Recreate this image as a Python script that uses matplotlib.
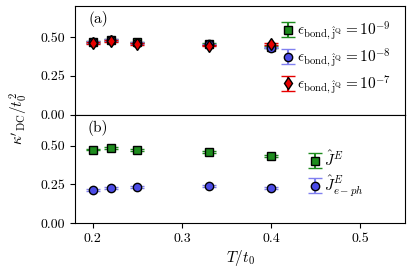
import numpy as np
import matplotlib.pyplot as plt

plt.rcParams['font.family'] = 'serif'
plt.rcParams['font.serif'] = ['cmr10']
plt.rcParams['mathtext.fontset'] = 'cm'
plt.rcParams['axes.unicode_minus'] = False
plt.rcParams['font.size'] = 11

# temperatures T/t0
T = [0.2, 0.22, 0.25, 0.33, 0.4]

# (a) different bond cut-offs
k_e9 = [0.470, 0.480, 0.465, 0.455, 0.435]
k_e8 = [0.468, 0.478, 0.463, 0.452, 0.432]
k_e7 = [0.460, 0.472, 0.455, 0.445, 0.455]
err_a = [0.006, 0.006, 0.006, 0.006, 0.006]

# (b) total vs e-ph current
k_JE = [0.474, 0.486, 0.471, 0.461, 0.430]
k_Jeph = [0.213, 0.228, 0.230, 0.239, 0.224]
err_b = [0.006, 0.006, 0.006, 0.006, 0.006]

green = '#1e8c1e'
blue = '#4b4be6'
red = '#e60000'

fig, (ax1, ax2) = plt.subplots(2, 1, sharex=True, figsize=(4.12, 2.73), dpi=100)
fig.subplots_adjust(left=0.182, right=0.983, top=0.978, bottom=0.183, hspace=0)

ax1.errorbar(T, k_e9, yerr=err_a, fmt='s', color=green, mfc=green, mec='k', ms=6,
             capsize=5, label=r'$\epsilon_{\mathrm{bond},\hat{\mathrm{j}}^{\mathrm{Q}}} = 10^{-9}$')
ax1.errorbar(T, k_e8, yerr=err_a, fmt='o', color=blue, mfc=blue, mec='k', ms=6,
             capsize=5, ecolor='#8080f0',
             label=r'$\epsilon_{\mathrm{bond},\hat{\mathrm{j}}^{\mathrm{Q}}} = 10^{-8}$')
ax1.errorbar(T, k_e7, yerr=err_a, fmt='d', color=red, mfc=red, mec='k', ms=6,
             capsize=5, label=r'$\epsilon_{\mathrm{bond},\hat{\mathrm{j}}^{\mathrm{Q}}} = 10^{-7}$')
ax1.legend(loc='upper right', frameon=False, handlelength=0.8, handletextpad=0.2,
           labelspacing=0.3, fontsize=11)
ax1.text(0.07, 0.88, '(a)', transform=ax1.transAxes, ha='center', va='center')

ax2.errorbar(T, k_JE, yerr=err_b, fmt='s', color=green, mfc=green, mec='k', ms=6,
             capsize=5, label=r'$\hat{J}^E$')
ax2.errorbar(T, k_Jeph, yerr=err_b, fmt='o', color='#8080f0', mfc=blue, mec='k', ms=6,
             capsize=5, label=r'$\hat{J}^E_{e-ph}$')
ax2.legend(loc='center right', frameon=False, handlelength=0.8, handletextpad=0.2,
           labelspacing=0.3, fontsize=11, bbox_to_anchor=(0.915, 0.45))
ax2.text(0.07, 0.88, '(b)', transform=ax2.transAxes, ha='center', va='center')

for ax in (ax1, ax2):
    ax.set_ylim(0, 0.7)
    ax.set_yticks([0.0, 0.25, 0.5])
    ax.set_yticklabels(['0.00', '0.25', '0.50'])
    ax.tick_params(labelsize=10)
ax1.tick_params(bottom=False)
ax2.set_xlim(0.18, 0.55)
ax2.set_xticks([0.2, 0.3, 0.4, 0.5])
ax2.set_xlabel(r'$T/t_0$', labelpad=2)
fig.text(0.045, 0.565, r"$\kappa'_{\mathrm{DC}}/t_0^2$", rotation=90, ha='center', va='center')

fig.savefig('out.png', dpi=100)
